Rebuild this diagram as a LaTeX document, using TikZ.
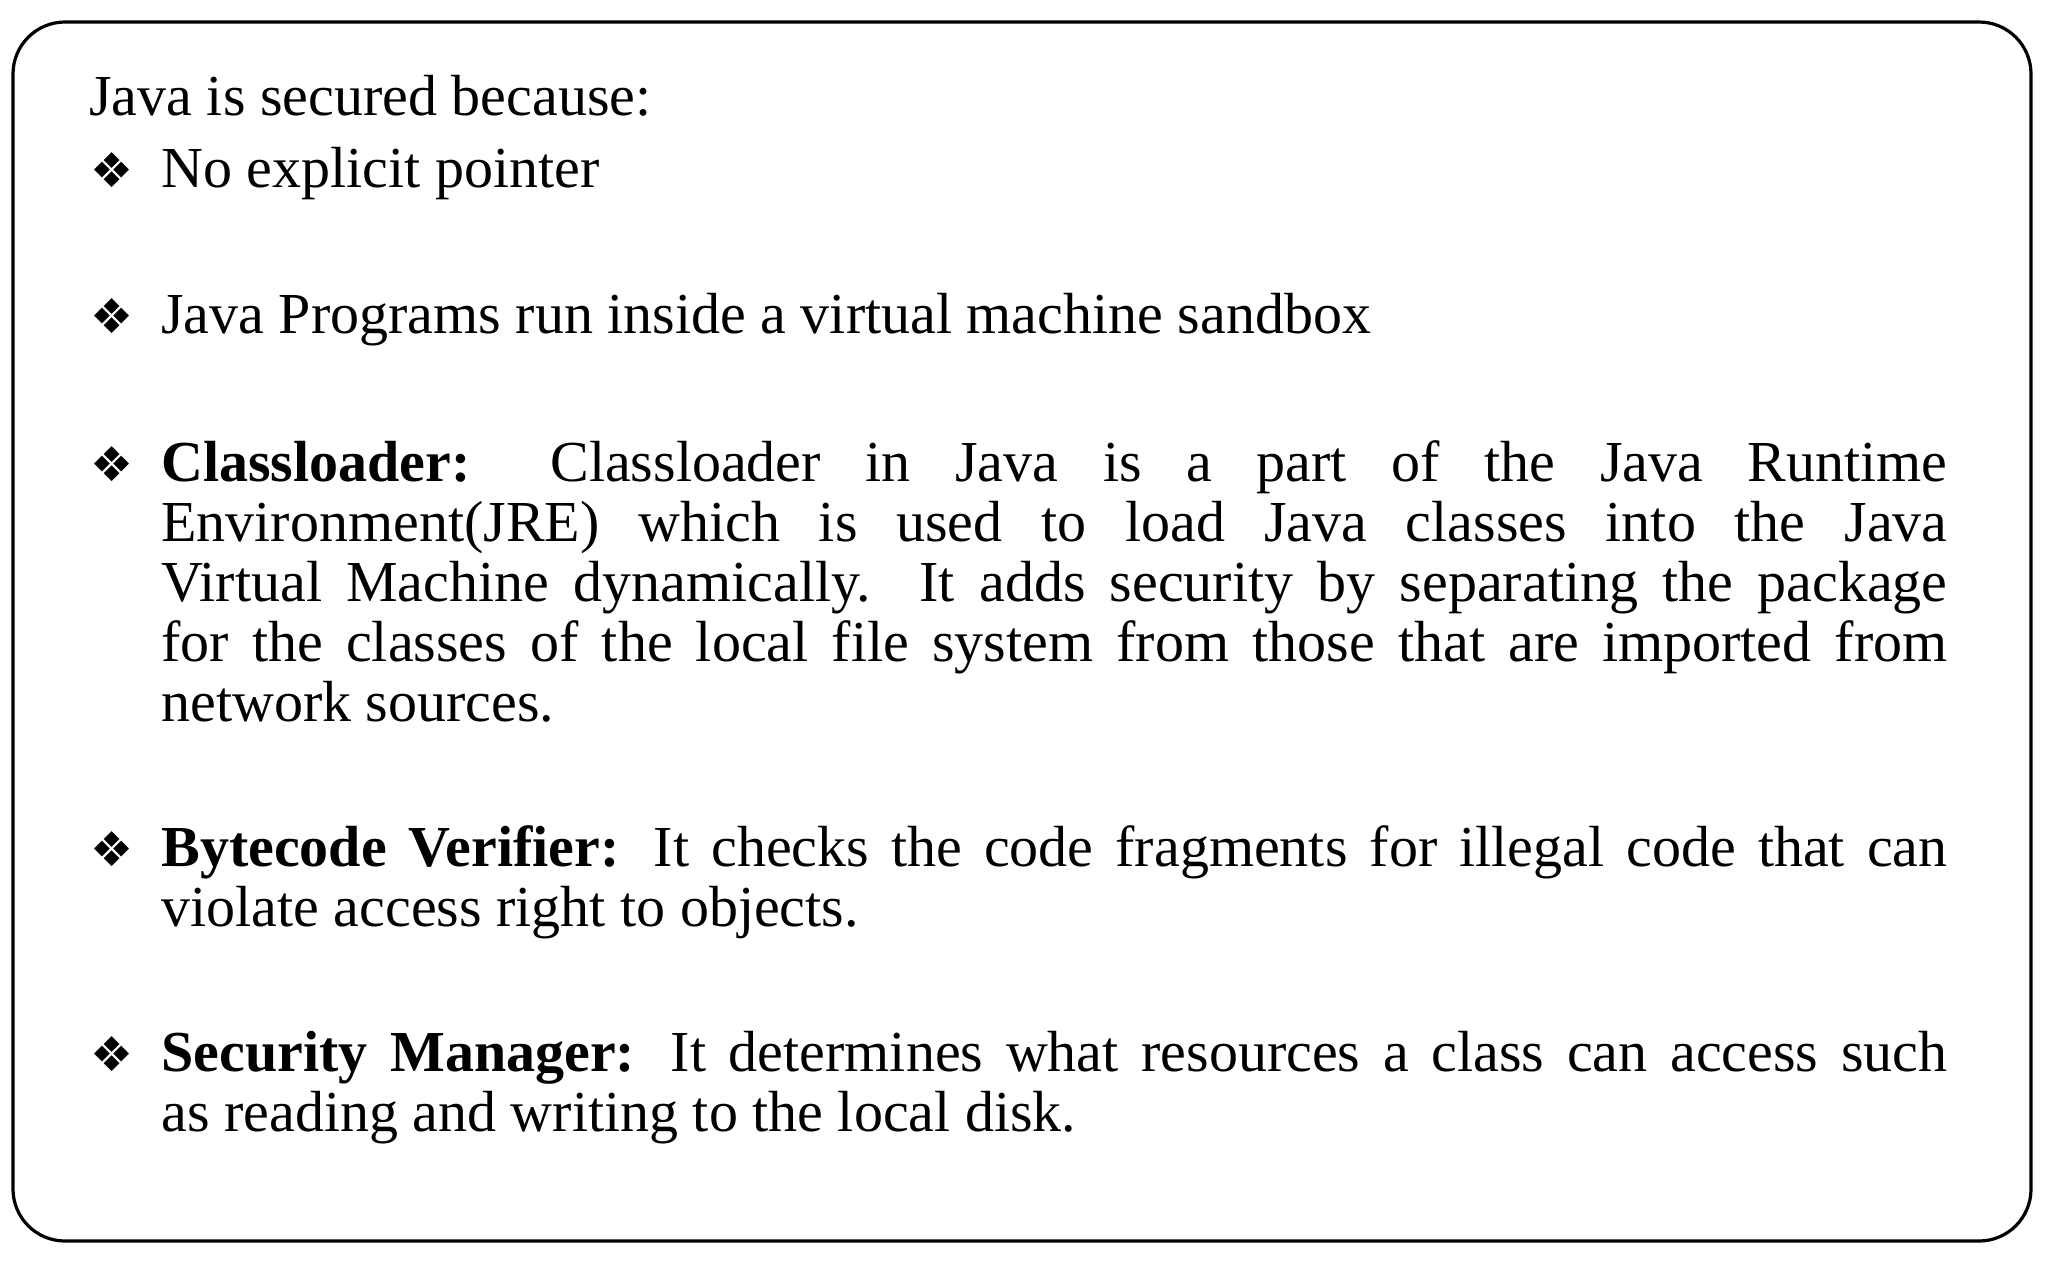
\documentclass[tikz,border=0pt]{standalone}
\usepackage{fontspec}
\setmainfont{Liberation Serif}
\newfontfamily\symfont{DejaVu Sans}
\begin{document}
\begin{tikzpicture}[x=0.5pt,y=-0.5pt,
  txt/.style={anchor=base west,inner sep=0pt,font=\fontsize{29}{30}\selectfont},
  par/.style={txt,text width=893pt,align=justify},
  bul/.style={anchor=base west,inner sep=0pt,font=\symfont\fontsize{24}{30}\selectfont}]
\useasboundingbox (0,0) rectangle (2048,1270);
\draw[line width=1.6pt,rounded corners=26pt] (13,22) rectangle (2031,1241);
\node[txt] (t0) at (89,115) {Java is secured because:};
\node[bul] (b1) at (90,187) {❖};
\node[txt] (t1) at (161,187) {No explicit pointer};
\node[bul] (b2) at (90,333) {❖};
\node[txt] (t2) at (161,333) {Java Programs run inside a virtual machine sandbox};
\node[bul] (b3) at (90,481) {❖};
\node[par] (t3) at (161,481) {\textbf{Classloader:} Classloader in Java is a part of the Java Runtime\linebreak Environment(JRE) which is used to load Java classes into the Java\linebreak Virtual Machine dynamically. It adds security by separating the package\linebreak for the classes of the local file system from those that are imported from\linebreak network sources.};
\node[bul] (b4) at (90,866) {❖};
\node[par] (t4) at (161,866) {\textbf{Bytecode Verifier:} It checks the code fragments for illegal code that can\linebreak violate access right to objects.};
\node[bul] (b5) at (90,1071) {❖};
\node[par] (t5) at (161,1071) {\textbf{Security Manager:} It determines what resources a class can access such\linebreak as reading and writing to the local disk.};
\end{tikzpicture}
\end{document}
